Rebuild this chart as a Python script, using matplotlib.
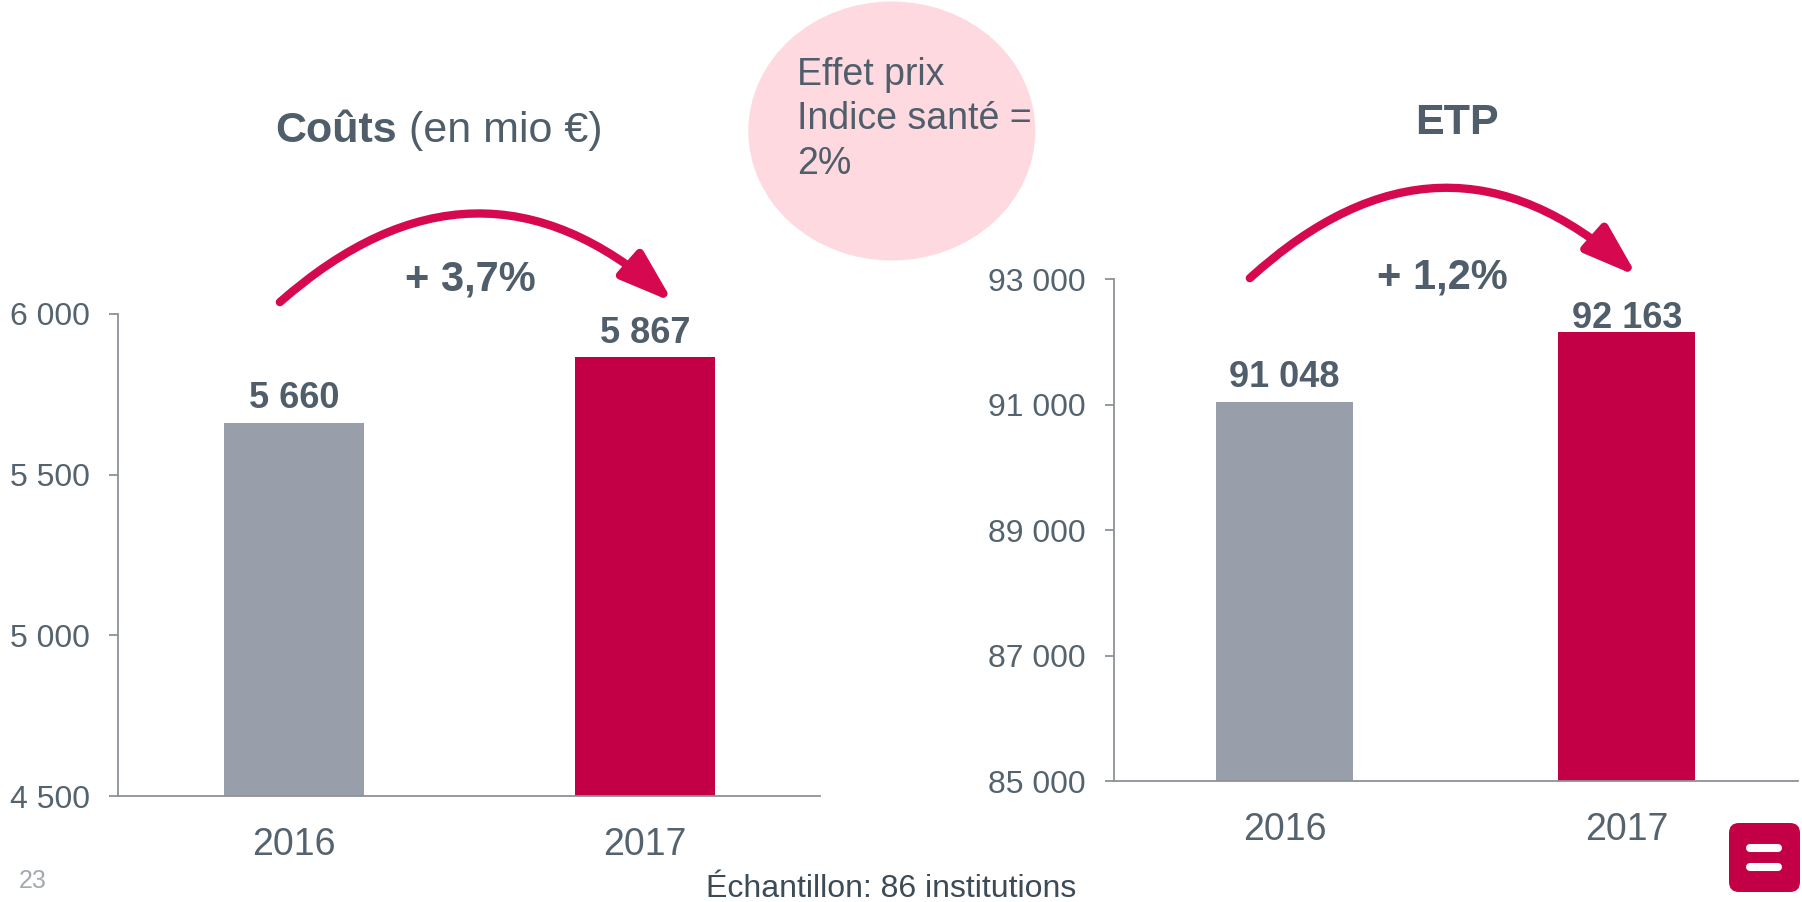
import matplotlib
matplotlib.use('Agg')
import matplotlib.pyplot as plt
from matplotlib.patches import Ellipse, FancyBboxPatch, FancyArrowPatch, ArrowStyle
from matplotlib.lines import Line2D
from matplotlib.text import Annotation
from matplotlib.transforms import IdentityTransform

# ---- data ----
years = ['2016', '2017']
couts = [5660, 5867]
etp = [91048, 92163]
couts_ticks = [4500, 5000, 5500, 6000]
etp_ticks = [85000, 87000, 89000, 91000, 93000]
couts_change = '+ 3,7%'
etp_change = '+ 1,2%'
bar_colors = ['#989FAA', '#C30045']

# label offsets above bars (points) - styling
couts_label_off = [18, 16.5]
etp_label_off = [17.3, 9.5]

TXT = '#4F5E6A'
TICK = '#55636E'
AXC = '#8C929A'
RED = '#D6084F'

plt.rcParams['font.family'] = ['Liberation Sans', 'DejaVu Sans']


def fmt(v):
    return f'{v:,}'.replace(',', ' ')


fig = plt.figure(figsize=(18.02, 9.02), dpi=100)
ax1 = fig.add_axes([0.0657, 0.1171, 0.3896, 0.5351])
ax2 = fig.add_axes([0.618, 0.1337, 0.3798, 0.5568])


def draw(ax, vals, ticks, offs):
    ax.set_facecolor('none')
    x = list(range(len(years)))
    ax.bar(x, vals, width=0.4, color=bar_colors, zorder=2)
    ax.set_xlim(-0.5, 1.5)
    ax.set_ylim(ticks[0], ticks[-1])
    ax.set_yticks(ticks, [fmt(t) for t in ticks])
    ax.set_xticks(x, years)
    for s in ['top', 'right']:
        ax.spines[s].set_visible(False)
    for s in ['left', 'bottom']:
        ax.spines[s].set_color(AXC)
        ax.spines[s].set_linewidth(1.3)
    ax.tick_params(axis='y', length=6.5, width=1.3, color=AXC, pad=14,
                   labelsize=23, labelcolor=TICK)
    ax.tick_params(axis='x', length=0, pad=22, labelsize=27, labelcolor=TICK)
    for i, v in enumerate(vals):
        ax.annotate(fmt(v), (i, v), xytext=(0, offs[i]), textcoords='offset points',
                    ha='center', va='center', fontsize=26, fontweight='bold',
                    color=TXT)


draw(ax1, couts, couts_ticks, couts_label_off)
draw(ax2, etp, etp_ticks, etp_label_off)

# change labels
ax1.text(0.502, 1.070, couts_change, transform=ax1.transAxes, ha='center',
         va='center', fontsize=30, fontweight='bold', color=TXT)
ax2.text(0.481, 1.004, etp_change, transform=ax2.transAxes, ha='center',
         va='center', fontsize=30, fontweight='bold', color=TXT)

# curved arrows
style = ArrowStyle('-|>', head_length=0.8, head_width=0.27)
for ax, p0, p1, rad in [(ax1, (0.230, 1.024), (0.790, 1.024), -0.44),
                        (ax2, (0.199, 1.002), (0.765, 1.006), -0.45)]:
    arr = FancyArrowPatch(p0, p1, transform=ax.transAxes,
                          connectionstyle=f'arc3,rad={rad}', arrowstyle=style,
                          mutation_scale=40, lw=6, color=RED,
                          shrinkA=0, shrinkB=0, clip_on=False)
    ax.add_patch(arr)

# titles
t1 = fig.text(275 / 1802, 1 - 141.7 / 902, 'Coûts', ha='left', va='baseline',
              fontsize=31, fontweight='bold', color=TXT)
fig.add_artist(Annotation(' (en mio €)', xy=(1, 0), xycoords=t1,
                          ha='left', va='bottom', fontsize=31, color=TXT))
fig.text(1457 / 1802, 1 - 134 / 902, 'ETP', ha='center', va='baseline',
         fontsize=31, fontweight='bold', color=TXT)

# pink bubble
fig.add_artist(Ellipse((891.8 / 1802, 1 - 131 / 902), 287 / 1802, 259 / 902,
                       transform=fig.transFigure, facecolor='#FEDAE0',
                       edgecolor='none', zorder=0))
fig.text(797 / 1802, 1 - 57 / 902, 'Effet prix\nIndice santé =\n2%',
         ha='left', va='top', fontsize=27, color=TXT, linespacing=1.3)

# footer
fig.text(891 / 1802, 1 - 897 / 902, 'Échantillon: 86 institutions',
         ha='center', va='baseline', fontsize=23, color='#3D4B57')
fig.text(33 / 1802, 1 - 881 / 902, '23', ha='center', va='center',
         fontsize=18, color='#A3A9B0')

# logo
fig.add_artist(FancyBboxPatch((1729, 10), 71, 69,
                              boxstyle='round,pad=0,rounding_size=10',
                              transform=IdentityTransform(),
                              facecolor='#C30045', edgecolor='none'))
for yy in (54, 35):
    fig.add_artist(Line2D([1750, 1778], [yy, yy], transform=IdentityTransform(),
                          color='white', lw=5.8, solid_capstyle='round'))

fig.savefig('out.png', dpi=100)
